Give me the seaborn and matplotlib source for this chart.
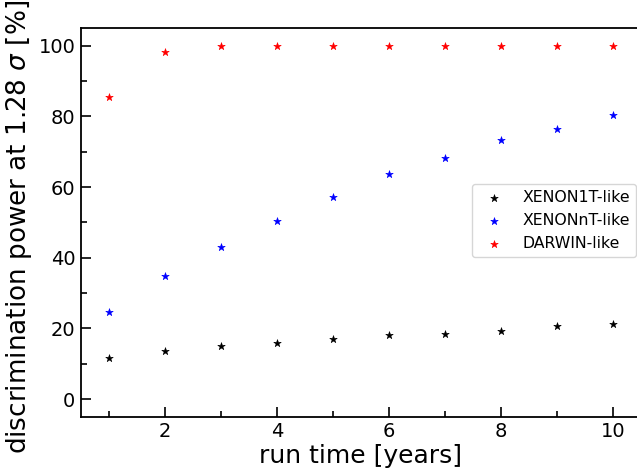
import matplotlib
matplotlib.use("Agg")
import matplotlib.pyplot as plt
from matplotlib.ticker import MultipleLocator
import seaborn as sns
import pandas as pd

run_time = [1, 2, 3, 4, 5, 6, 7, 8, 9, 10]
xenon1t = [11.7, 13.7, 14.9, 15.9, 16.9, 18.0, 18.3, 19.2, 20.8, 21.1]
xenonnt = [24.7, 34.8, 43.0, 50.4, 57.3, 63.7, 68.3, 73.2, 76.5, 80.4]
darwin = [85.4, 98.1, 99.8, 99.9, 100.0, 100.0, 100.0, 100.0, 100.0, 100.0]
series_names = ["XENON1T-like", "XENONnT-like", "DARWIN-like"]
series_colors = ["black", "blue", "red"]

W, H = 637, 474
fig = plt.figure(figsize=(W / 100, H / 100), dpi=100)
ax = fig.add_axes([81 / W, 1 - 416.7 / H, (640.7 - 81) / W, (416.7 - 28) / H])

for name, vals, col in zip(series_names, [xenon1t, xenonnt, darwin], series_colors):
    df = pd.DataFrame({"run time": run_time, "power": vals})
    sns.scatterplot(data=df, x="run time", y="power", ax=ax, marker="*", s=32,
                    color=col, edgecolor=col, linewidth=0.4, label=name, legend=False)

ax.set_xlim(0.5, 10.5)
ax.set_ylim(-5, 105)
ax.xaxis.set_major_locator(MultipleLocator(2))
ax.xaxis.set_minor_locator(MultipleLocator(1))
ax.yaxis.set_major_locator(MultipleLocator(20))
ax.yaxis.set_minor_locator(MultipleLocator(10))
ax.tick_params(which="both", direction="in", width=1.2, labelsize=14, pad=4)
ax.tick_params(which="major", length=7)
ax.tick_params(which="minor", length=4)
for sp in ax.spines.values():
    sp.set_linewidth(1.3)

ax.set_xlabel("run time [years]", fontsize=18, labelpad=2)
ax.set_ylabel(r"discrimination power at 1.28 $\sigma$ [%]", fontsize=18.9, labelpad=3)
ax.yaxis.label.set_y(0.487)

ax.legend(loc="upper left", bbox_to_anchor=(472.3 / W, 1 - 184 / H),
          bbox_transform=fig.transFigure, borderaxespad=0, fontsize=11.3,
          scatterpoints=1)

fig.savefig("out.png", dpi=100)
